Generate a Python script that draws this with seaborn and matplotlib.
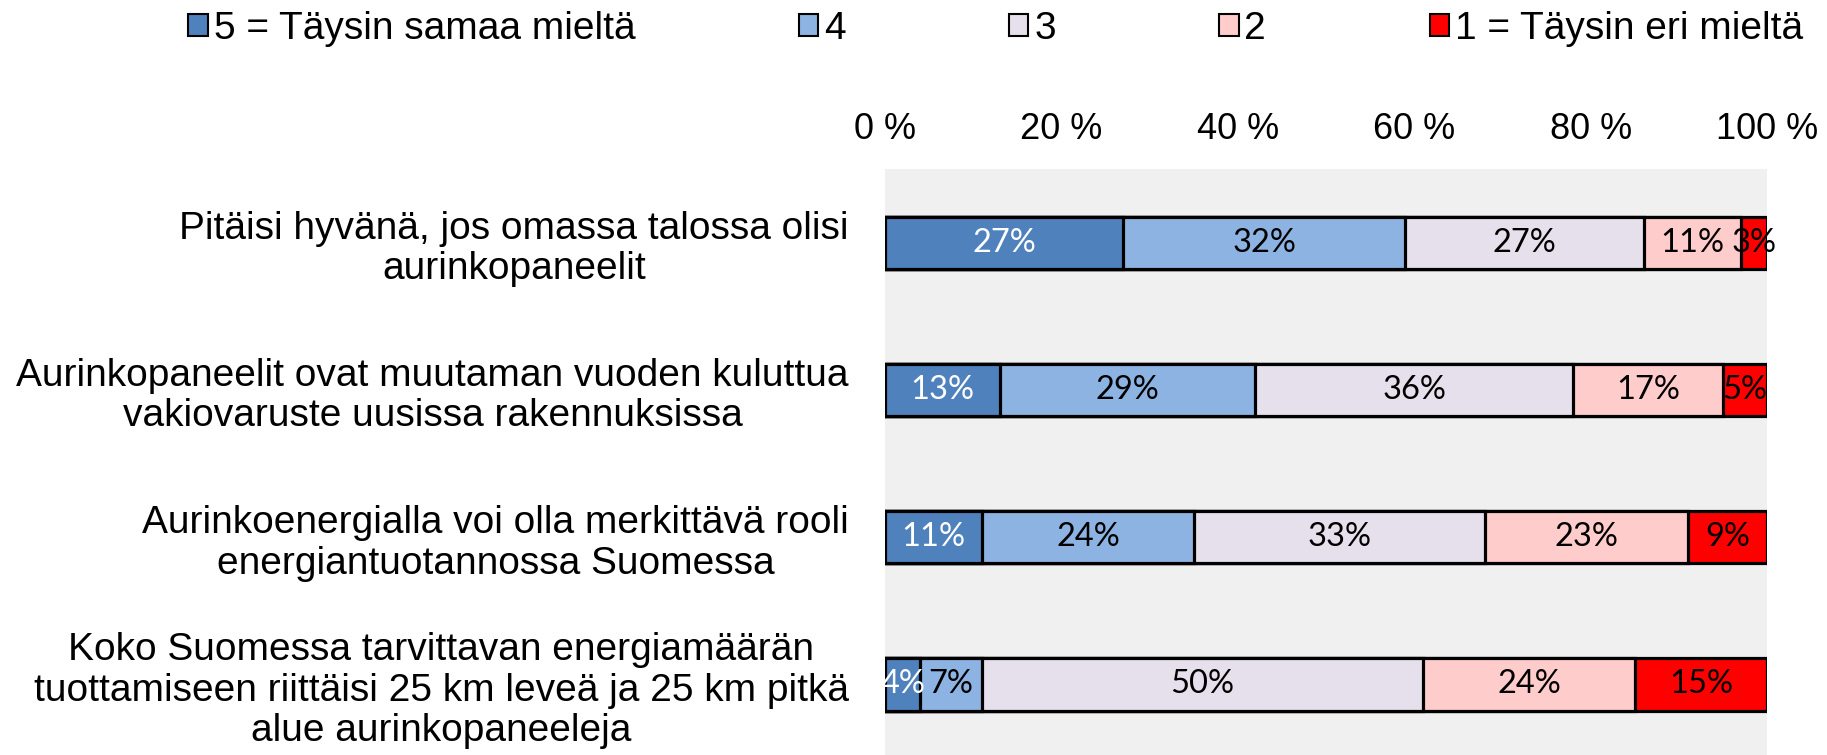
import pandas as pd
import matplotlib
matplotlib.use("Agg")
import matplotlib.pyplot as plt
import seaborn as sns
from matplotlib.patches import Patch

questions = [
    "Pitäisi hyvänä, jos omassa talossa olisi\naurinkopaneelit",
    "Aurinkopaneelit ovat muutaman vuoden kuluttua\nvakiovaruste uusissa rakennuksissa",
    "Aurinkoenergialla voi olla merkittävä rooli\nenergiantuotannossa Suomessa",
    "Koko Suomessa tarvittavan energiamäärän\ntuottamiseen riittäisi 25 km leveä ja 25 km pitkä\nalue aurinkopaneeleja",
]
levels = ["5 = Täysin samaa mieltä", "4", "3", "2", "1 = Täysin eri mieltä"]
val_5 = [27, 13, 11, 4]
val_4 = [32, 29, 24, 7]
val_3 = [27, 36, 33, 50]
val_2 = [11, 17, 23, 24]
val_1 = [3, 5, 9, 15]
tick_labels = ["0 %", "20 %", "40 %", "60 %", "80 %", "100 %"]

colors = ["#4F81BD", "#8DB3E2", "#E6E0EC", "#FFCCCC", "#FF0000"]
label_colors = ["white", "black", "black", "black", "black"]

sns.set_style("white")
plt.rcParams['font.family'] = ['Liberation Sans', 'DejaVu Sans']
plt.rcParams['text.color'] = 'black'
plt.rcParams['xtick.color'] = 'black'
plt.rcParams['ytick.color'] = 'black'

# long table with cumulative ends, so bars can be overlaid to look stacked
series = [val_5, val_4, val_3, val_2, val_1]
rows = []
for lvl, vals in zip(levels, series):
    for q, v in zip(questions, vals):
        rows.append({'question': q, 'level': lvl, 'value': v})
df = pd.DataFrame(rows)
df['level'] = pd.Categorical(df['level'], levels, ordered=True)
df = df.sort_values(['question', 'level'])
df['end'] = df.groupby('question', sort=False)['value'].cumsum()

fig = plt.figure(figsize=(18.27, 7.55), dpi=100)
ax = fig.add_axes([0.4844, -0.004, 0.4828, 0.780])
ax.set_facecolor('#F0F0F0')

# draw from the last level (full length) back to the first
for i in range(len(levels) - 1, -1, -1):
    sub = df[df['level'] == levels[i]]
    sns.barplot(data=sub, x='end', y='question', order=questions, orient='h',
                color=colors[i], saturation=1, width=0.355, errorbar=None,
                edgecolor='black', linewidth=2.3, ax=ax)

for i, lvl in enumerate(levels):
    sub = df[df['level'] == lvl]
    for _, r in sub.iterrows():
        y = questions.index(r['question'])
        ax.text(r['end'] - r['value'] / 2, y, f"{r['value']}%", ha='center', va='center',
                fontsize=23.5, color=label_colors[i], family=['Lato', 'DejaVu Sans'])

ax.set_xlim(0, 100)
ax.set_ylim(3.5, -0.5)
ax.set_xticks([0, 20, 40, 60, 80, 100])
ax.set_xticklabels(tick_labels)
ax.xaxis.tick_top()
ax.tick_params(axis='x', length=0, pad=16, labelsize=26)
ax.tick_params(axis='y', length=0, pad=26, labelsize=28)
for lab in ax.get_yticklabels():
    lab.set_multialignment('center')
    lab.set_linespacing(1.16)
ax.set_xlabel('')
ax.set_ylabel('')
for s in ax.spines.values():
    s.set_visible(False)

handles = [Patch(facecolor=c, edgecolor='black', linewidth=1.5) for c in colors]
fig.legend(handles, levels, loc='center', bbox_to_anchor=(0.545, 0.962), ncol=5,
           frameon=False, fontsize=28, handlelength=0.5, handleheight=0.5,
           handletextpad=0.15, columnspacing=4.2)

fig.savefig('out.png', dpi=100)
